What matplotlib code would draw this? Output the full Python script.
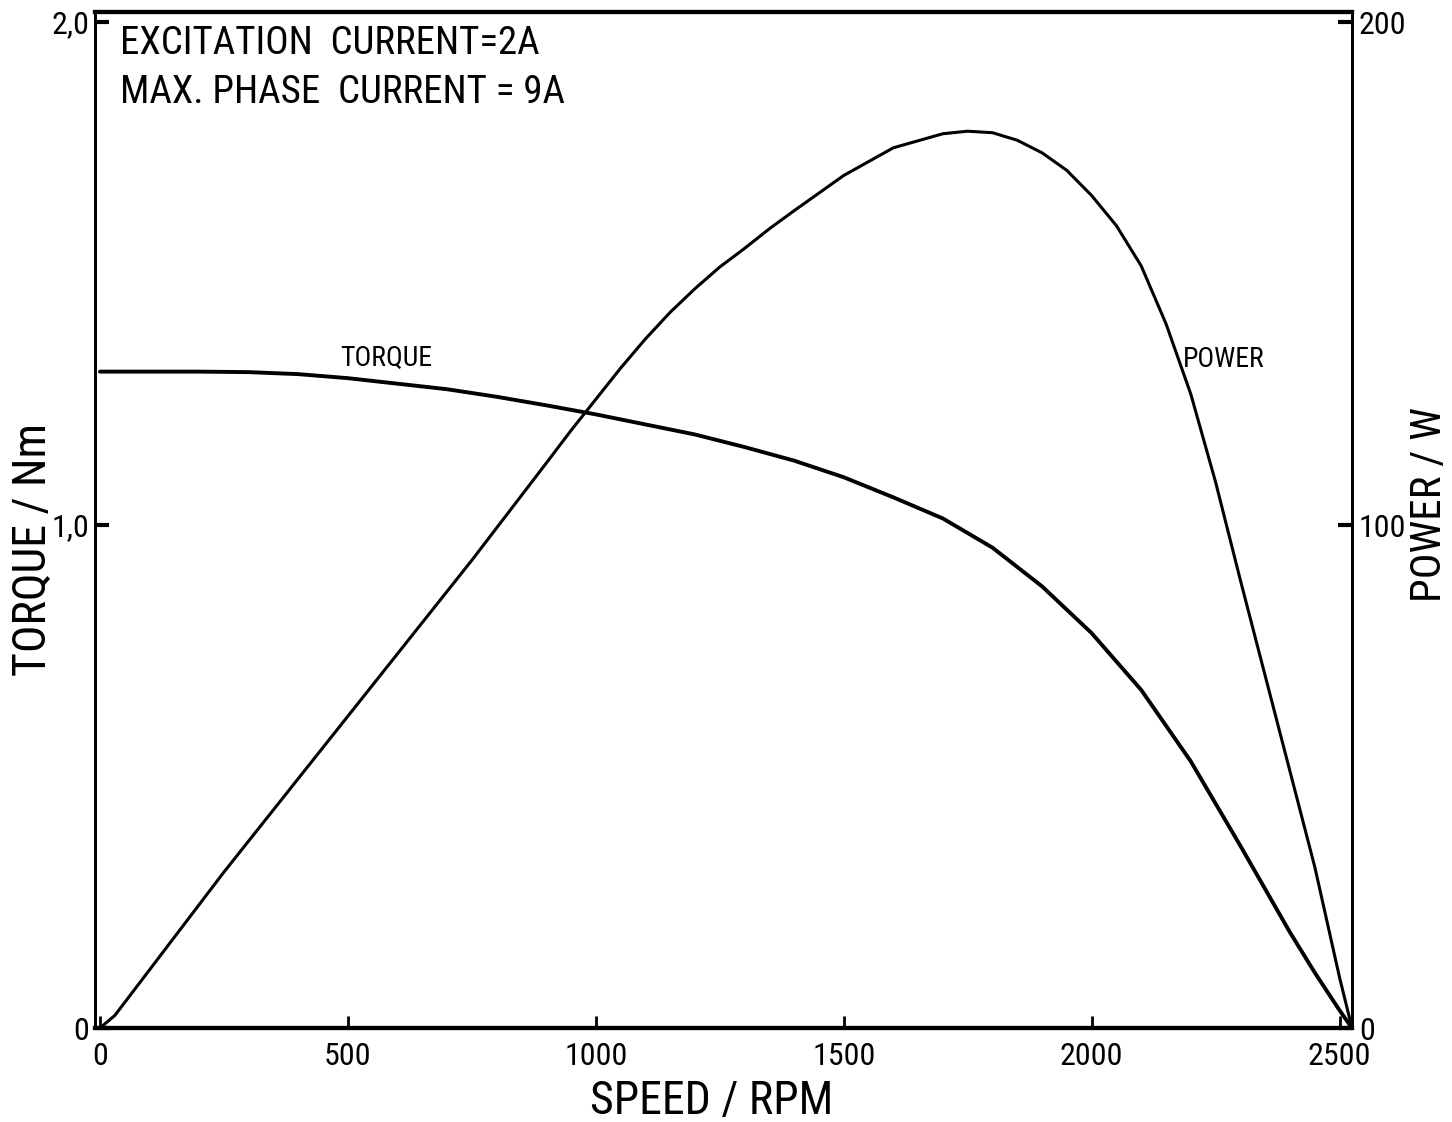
import numpy as np
import matplotlib
matplotlib.use("Agg")
import matplotlib.pyplot as plt

plt.rcParams['font.family'] = ['Roboto Condensed', 'DejaVu Sans']
plt.rcParams['font.stretch'] = 'condensed'

# values (speed in RPM)
speed_t = [0, 100, 200, 300, 400, 500, 600, 700, 800, 900, 1000, 1100, 1200,
           1300, 1400, 1500, 1600, 1700, 1800, 1900, 2000, 2100, 2200, 2300,
           2400, 2450, 2500, 2525]
torque = [1.305, 1.305, 1.305, 1.304, 1.3, 1.292, 1.281, 1.27, 1.255, 1.238, 1.22,
          1.20, 1.18, 1.155, 1.128, 1.095, 1.055, 1.013, 0.955, 0.878, 0.785,
          0.672, 0.53, 0.362, 0.19, 0.11, 0.035, 0.0]

speed_p = [0, 30, 250, 500, 750, 900, 950, 1000, 1050, 1100, 1150, 1200, 1250,
           1300, 1350, 1400, 1500, 1600, 1700, 1750, 1800, 1850, 1900, 1950,
           2000, 2050, 2100, 2150, 2200, 2250, 2300, 2350, 2400, 2450, 2500,
           2525]
power = [0, 2.5, 31, 62, 93, 112.3, 118.8, 125, 131.2, 137, 142.3, 147, 151.3,
         155, 158.9, 162.5, 169.5, 175, 177.8, 178.3, 178, 176.5, 174, 170.5,
         165.5, 159.5, 151.5, 140, 126, 108.5, 89, 70, 51, 32, 10, 0]

x_ticks = [0, 500, 1000, 1500, 2000, 2500]
t_ticks = [0, 1.0, 2.0]
t_labels = ['0', '1,0', '2,0']
p_ticks = [0, 100, 200]
p_labels = ['0', '100', '200']

fig = plt.figure(figsize=(14.52, 11.22), dpi=100)
ax = fig.add_axes([95/1452, 1 - 1028/1122, 1257/1452, 1016/1122])
ax2 = ax.twinx()

ax.plot(speed_t, torque, color='black', lw=2.8, solid_capstyle='round')
ax2.plot(speed_p, power, color='black', lw=2.2, solid_capstyle='round')

ax.set_xlim(-10, 2525)
ax.set_ylim(0, 2.02)
ax2.set_ylim(0, 202)

ax.set_xticks(x_ticks)
ax.set_xticklabels([str(v) for v in x_ticks])
ax.set_yticks(t_ticks)
ax.set_yticklabels(t_labels)
ax2.set_yticks(p_ticks)
ax2.set_yticklabels(p_labels)

ax.tick_params(axis='x', direction='in', length=9, width=2, pad=10, labelsize=23)
ax.tick_params(axis='y', direction='in', length=10, width=3, pad=4, labelsize=23)
ax2.tick_params(axis='y', direction='in', length=10, width=3, pad=5, labelsize=23)

for a in (ax, ax2):
    a.spines['top'].set_linewidth(3)
    a.spines['bottom'].set_linewidth(3)
    a.spines['left'].set_linewidth(2)
    a.spines['right'].set_linewidth(2)

ax.text(0.02, 0.969, 'EXCITATION  CURRENT=2A', transform=ax.transAxes,
        fontsize=28, ha='left', va='center')
ax.text(0.02, 0.921, 'MAX. PHASE  CURRENT = 9A', transform=ax.transAxes,
        fontsize=28, ha='left', va='center')

ax.text(577, 1.332, 'TORQUE', fontsize=20, ha='center', va='center')
ax2.text(2184, 133, 'POWER', fontsize=20, ha='left', va='center')

fig.text(712/1452, 1 - 1101/1122, 'SPEED / RPM', fontsize=33, ha='center', va='center')
fig.text(33/1452, 1 - 550/1122, 'TORQUE / Nm', fontsize=33, rotation=90,
         ha='center', va='center')
fig.text(1429/1452, 1 - 505/1122, 'POWER / W', fontsize=31, rotation=90,
         ha='center', va='center')

fig.savefig('out.png', dpi=100)
